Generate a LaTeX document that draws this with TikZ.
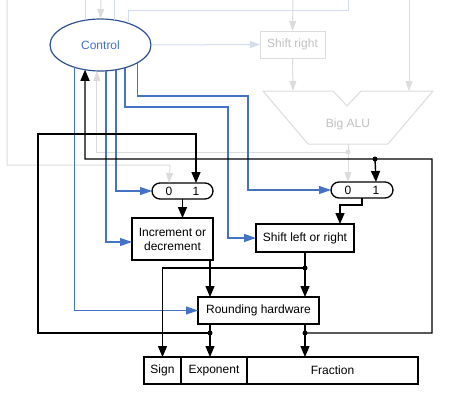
\documentclass[tikz,border=0pt]{standalone}
\usepackage{fontspec}
\setmainfont{Liberation Sans}
\usepackage{tikz}
\usetikzlibrary{shapes,arrows.meta,calc,positioning}
\definecolor{ctrlblue}{HTML}{4472C4}
\definecolor{ctrledge}{HTML}{2F528F}
\definecolor{fadeblue}{HTML}{D3DDF0}
\definecolor{fadegrey}{HTML}{DCDCDC}
\definecolor{fadetext}{HTML}{C0C0C0}

\begin{document}
\begin{tikzpicture}[x=1pt,y=-1pt,font=\fontsize{12}{14}\selectfont,
  unit_box/.style={rectangle,draw,line width=1.3pt,inner sep=0pt,outer sep=0pt,align=center},
  fade_box/.style={rectangle,draw=fadegrey,line width=1pt,text=fadetext,inner sep=0pt,outer sep=0pt},
  mux_node/.style={rounded rectangle,draw,line width=1.3pt,minimum width=61pt,minimum height=16pt,inner sep=0pt,outer sep=0pt},
  data_line/.style={line width=1.4pt,-{Triangle[length=11pt,width=9pt]}},
  ctrl_line/.style={ctrlblue,line width=1.2pt,-{Triangle[length=12pt,width=8pt]}},
  fade_line/.style={fadegrey,line width=1pt},
  fadeb_line/.style={fadeblue,line width=1pt},
  fade_tip/.style={-{Triangle[length=10pt,width=7pt]}}]

  \useasboundingbox (0,0) rectangle (476,418);

  % control and the faded datapath
  \node[ellipse,draw=ctrledge,line width=1.2pt,text=ctrlblue,fill=white,minimum width=101pt,minimum height=52pt,inner sep=0pt,outer sep=0pt] (ctrl) at (100.5,45) {Control};
  \node[fade_box,minimum width=65pt,minimum height=27pt] (shr) at (292.5,44.5) {Shift right};
  \draw[fade_line] (263,91) -- (333,91) -- (347,106) -- (361,91) -- (433,91) -- (388,144) -- (308,144) -- cycle;
  \node[text=fadetext] (alu) at (348,124) {Big ALU};
  \coordinate (aluout) at (348,144);
  \coordinate (aluj) at (348,152);

  % units
  \node[mux_node] (mux1) at (182.5,191) {};
  \node (m1a) at (169,191) {0};
  \node (m1b) at (196,191) {1};
  \node[mux_node,minimum width=62pt] (mux2) at (362,190) {};
  \node (m2a) at (348,190) {0};
  \node (m2b) at (376,190) {1};
  \node[unit_box,minimum width=81pt,minimum height=42pt] (inc) at (172.5,239) {Increment or\\decrement};
  \node[unit_box,minimum width=98pt,minimum height=28pt] (shl) at (305,238) {Shift left or right};
  \node[unit_box,minimum width=121pt,minimum height=27pt] (rnd) at (258.5,310.5) {Rounding hardware};
  \node[unit_box,minimum width=37pt,minimum height=27pt] (sign) at (162.5,370.5) {Sign};
  \node[unit_box,minimum width=66pt,minimum height=27pt,right=0pt of sign] (expo) {Exponent};
  \node[unit_box,minimum width=171pt,minimum height=27pt,right=0pt of expo] (frac) {Fraction};

  \coordinate (jl) at (210,333);
  \coordinate (jr) at (305,333);
  \coordinate (js) at (305,268);
  \coordinate (jt) at (375,159);

  % faded connections
  \draw[fade_line,fade_tip] (7,0) |- (170,165) -- (mux1.north -| m1a);
  \draw[fade_line,fade_tip] (aluout) -- (mux2.north -| m2a);
  \draw[fade_line,fade_tip] (aluj) -| (ctrl.262);
  \fill[fadegrey] (aluj) circle (2.5pt);
  \draw[fade_line,fade_tip] (293,0) -- (shr.north);
  \draw[fade_line,fade_tip] (shr.south) -- (293,91);
  \draw[fade_line,fade_tip] (409,0) -- (409,91);
  \draw[fade_line,fade_tip] (101,0) -- (ctrl.north);
  \draw[fadeb_line,fade_tip] (ctrl.east) -- (shr.west);
  \draw[fadeb_line] (ctrl.38) |- (348,10) -- (348,0);
  \draw[fadeb_line] (ctrl.122) -- (ctrl.122 |- 0,0);
  \draw[fadeb_line] (ctrl.60) -- (ctrl.60 |- 0,0);

  % control signals
  \draw[ctrl_line] (ctrl.221) |- (rnd.west);
  \draw[ctrl_line] (ctrl.282) |- ($(inc.west)+(0,3)$);
  \draw[ctrl_line] (ctrl.302) |- (mux1.west);
  \draw[ctrl_line] (ctrl.317) |- (228,107) |- (shl.west);
  \draw[ctrl_line] (ctrl.334) |- (248,96) |- (mux2.west);

  % data
  \draw[data_line] (mux1.south) -- (mux1.south |- inc.north);
  \draw[data_line] (mux2.south) -- ++(0,7) -| ($(shl.north)+(35,0)$);
  \draw[data_line] (inc.south -| jl) -- (rnd.north -| jl);
  \draw[data_line] (shl.south) -- (rnd.north -| shl.south);
  \draw[data_line] (js) -| (sign.north);
  \draw[data_line] (rnd.south -| jl) -- (expo.north -| jl);
  \draw[data_line] (rnd.south -| jr) -- (frac.north -| jr);
  \draw[data_line] (jl) -- (38,333) -- (38,134) -| (mux1.north -| m1b);
  \draw[data_line] (jr) -- (432,333) -- (432,159) -- (85,159) -- (ctrl.238);
  \draw[data_line] (jt) -- (mux2.north -| m2b);
  \foreach \p in {jl,jr,js,jt}
    \fill (\p) circle (2.5pt);
\end{tikzpicture}
\end{document}
